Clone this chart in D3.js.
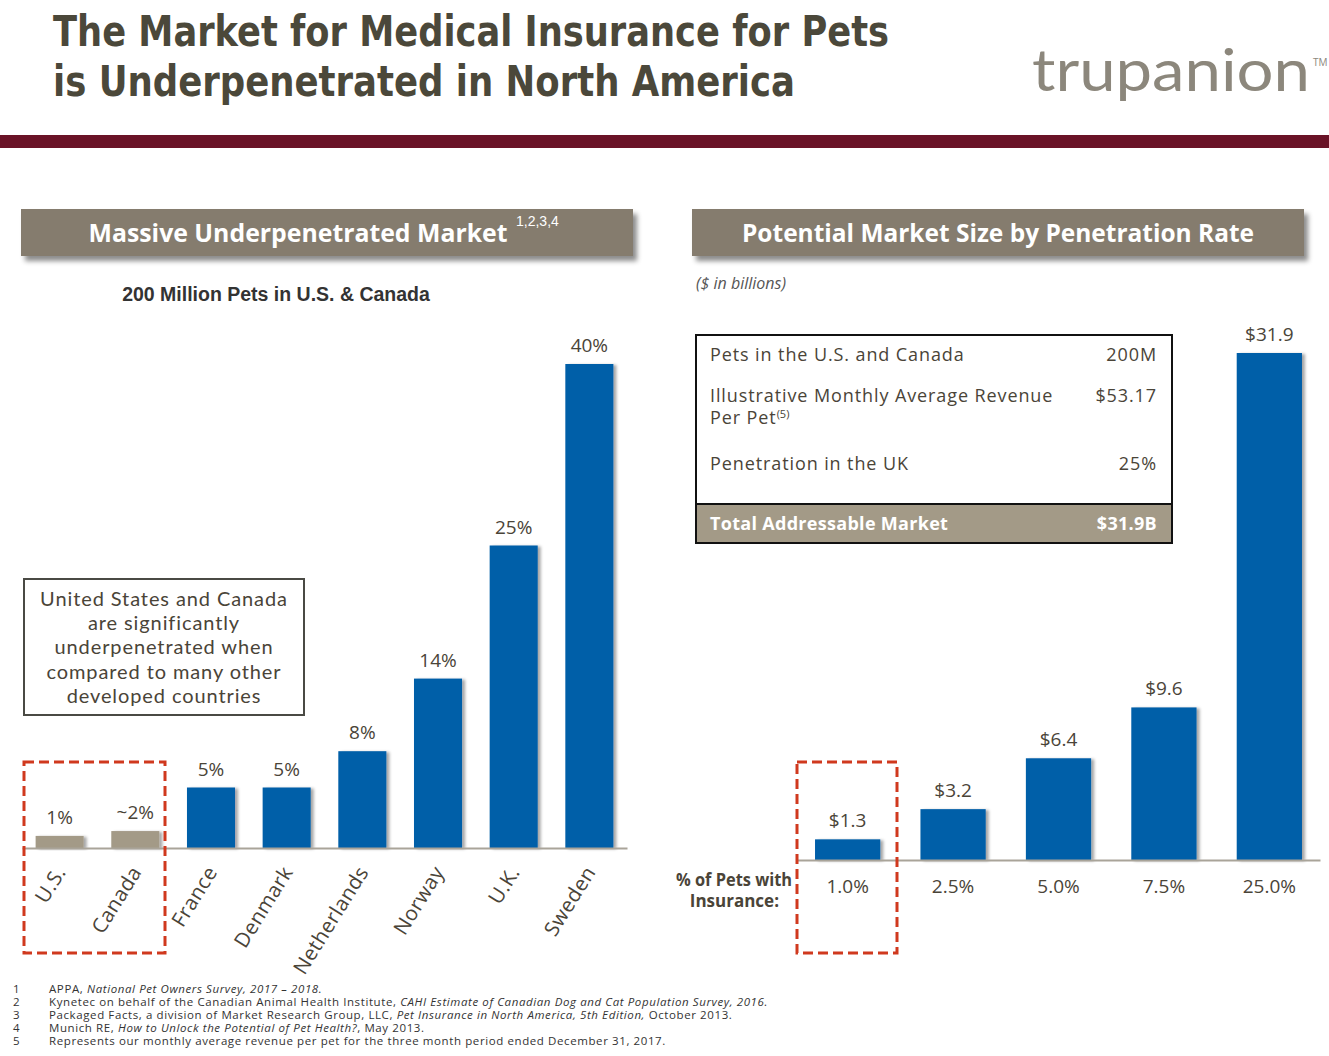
<!DOCTYPE html>
<html><head><meta charset="utf-8">
<script src="https://cdn.jsdelivr.net/npm/d3@7"></script>
<style>body{margin:0;background:#fff}svg{display:block}</style>
</head><body>
<script>
// ---- data ----
const countries = ["U.S.", "Canada", "France", "Denmark", "Netherlands", "Norway", "U.K.", "Sweden"];
const penetration = [1, 1.4, 5, 5, 8, 14, 25, 40];
const penetrationLabels = ["1%", "~2%", "5%", "5%", "8%", "14%", "25%", "40%"];
const highlighted = ["U.S.", "Canada"];
const rates = ["1.0%", "2.5%", "5.0%", "7.5%", "25.0%"];
const marketSize = [1.3, 3.2, 6.4, 9.6, 31.9];
const marketLabels = ["$1.3", "$3.2", "$6.4", "$9.6", "$31.9"];
const tableRows = [["Pets in the U.S. and Canada", "200M"], ["Illustrative Monthly Average Revenue", "$53.17"], ["Penetration in the UK", "25%"]];
const tableTotal = ["Total Addressable Market", "$31.9B"];
const annotation = ["United States and Canada", "are significantly", "underpenetrated when", "compared to many other", "developed countries"];
const footnotes = [
  ["1", [["APPA, ", false], ["National Pet Owners Survey, 2017 –  2018.", true]]],
  ["2", [["Kynetec on behalf of the Canadian Animal Health Institute, ", false], ["CAHI Estimate of Canadian Dog and Cat Population Survey, 2016.", true]]],
  ["3", [["Packaged Facts, a division of Market Research Group, LLC, ", false], ["Pet Insurance in North America, 5th Edition,", true], [" October 2013.", false]]],
  ["4", [["Munich RE, ", false], ["How to Unlock the Potential of Pet Health?", true], [", May 2013.", false]]],
  ["5", [["Represents our monthly average revenue per pet for the three month period ended December 31, 2017.", false]]]
];

const W = 1329, H = 1056;
const FONT = "'Century Gothic','Open Sans','DejaVu Sans',sans-serif";
const TXT = "#4a4438", BLUE = "#005ea8", TAUPE = "#a39a87", HEAD = "#857c6e", RED = "#d0391e";

const svg = d3.select("body").append("svg").attr("width", W).attr("height", H)
  .style("font-family", FONT);
const defs = svg.append("defs");
const fs = defs.append("filter").attr("id", "barShadow").attr("x", "-20%").attr("y", "-20%").attr("width", "140%").attr("height", "140%");
fs.append("feDropShadow").attr("dx", 3).attr("dy", 1).attr("stdDeviation", 1.5).attr("flood-color", "#000").attr("flood-opacity", 0.35);
const fh = defs.append("filter").attr("id", "headShadow").attr("x", "-5%").attr("y", "-30%").attr("width", "110%").attr("height", "170%");
fh.append("feDropShadow").attr("dx", 4).attr("dy", 5).attr("stdDeviation", 2.5).attr("flood-color", "#000").attr("flood-opacity", 0.45);

// ---- title ----
const title = svg.append("g").attr("fill", "#4b483a").attr("font-weight", "bold")
  .attr("font-family", "'DejaVu Sans Condensed','DejaVu Sans',sans-serif").attr("font-size", 42);
title.append("text").attr("x", 53).attr("y", 46).attr("textLength", 836).attr("lengthAdjust", "spacingAndGlyphs")
  .text("The Market for Medical Insurance for Pets");
title.append("text").attr("x", 53).attr("y", 96).attr("textLength", 742).attr("lengthAdjust", "spacingAndGlyphs")
  .text("is Underpenetrated in North America");

// logo
svg.append("text").attr("x", 1032).attr("y", 91).attr("font-size", 58).attr("fill", "#8c877c")
  .attr("font-family", "'Century Gothic','Lato','Open Sans',sans-serif")
  .attr("textLength", 278).attr("lengthAdjust", "spacingAndGlyphs").text("trupanion");
svg.append("text").attr("x", 1313).attr("y", 66).attr("font-size", 10).attr("fill", "#8c877c").text("TM");

// maroon band
svg.append("rect").attr("x", 0).attr("y", 135).attr("width", W).attr("height", 13).attr("fill", "#6a1327");

// ---- section headers ----
function header(x) {
  svg.append("rect").attr("x", x).attr("y", 209).attr("width", 612).attr("height", 47)
    .attr("fill", HEAD).attr("filter", "url(#headShadow)");
  return svg.append("text").attr("y", 242).attr("fill", "#fff").attr("font-weight", "bold")
    .attr("font-size", 25).attr("text-anchor", "middle");
}
header(21).attr("x", 298).attr("textLength", 419).attr("lengthAdjust", "spacingAndGlyphs").text("Massive Underpenetrated Market");
svg.append("text").attr("x", 516).attr("y", 226).attr("fill", "#fff").attr("font-size", 14)
  .attr("font-family", "'Liberation Sans Narrow','Liberation Sans',sans-serif").text("1,2,3,4");
header(692).attr("x", 998).attr("textLength", 512).attr("lengthAdjust", "spacingAndGlyphs").text("Potential Market Size by Penetration Rate");

svg.append("text").attr("x", 276).attr("y", 301).attr("text-anchor", "middle").attr("font-weight", "bold")
  .attr("font-family", "'Liberation Sans',Arial,sans-serif").attr("font-size", 19.5).attr("fill", "#333")
  .text("200 Million Pets in U.S. & Canada");
svg.append("text").attr("x", 696).attr("y", 289).attr("font-style", "italic").attr("font-size", 16)
  .attr("fill", "#555").text("($ in billions)");

// ---- left chart ----
const xL = d3.scaleBand().domain(countries).range([22, 627]).paddingInner(0.365).paddingOuter(0.18);
const yL = d3.scaleLinear().domain([0, 40]).range([848, 364]);
const left = svg.append("g");
left.selectAll("rect.bar").data(countries).join("rect").attr("class", "bar")
  .attr("x", d => xL(d)).attr("width", xL.bandwidth())
  .attr("y", (d, i) => yL(penetration[i])).attr("height", (d, i) => yL(0) - yL(penetration[i]))
  .attr("fill", d => highlighted.includes(d) ? TAUPE : BLUE).attr("filter", "url(#barShadow)");
left.selectAll("text.val").data(countries).join("text").attr("class", "val")
  .attr("x", d => xL(d) + xL.bandwidth() / 2).attr("y", (d, i) => yL(penetration[i]) - 12)
  .attr("text-anchor", "middle").attr("font-size", 19).attr("fill", TXT).text((d, i) => penetrationLabels[i]);
const axL = left.append("g").attr("transform", `translate(0,${yL(0)})`)
  .call(d3.axisBottom(xL).tickSize(0).tickPadding(0));
axL.select(".domain").attr("stroke", "#a9a499").attr("stroke-width", 2);
axL.selectAll(".tick text").attr("font-family", FONT).attr("font-size", 20.5).attr("fill", TXT)
  .attr("text-anchor", "end").attr("dy", 0).attr("letter-spacing", 0.4)
  .attr("transform", "translate(7,24) rotate(-58)");

// annotation box
svg.append("rect").attr("x", 24).attr("y", 579).attr("width", 280).attr("height", 136)
  .attr("fill", "#fff").attr("stroke", "#4a4a44").attr("stroke-width", 2);
svg.append("g").selectAll("text").data(annotation).join("text")
  .attr("x", 164).attr("y", (d, i) => 606 + i * 24.2).attr("text-anchor", "middle")
  .attr("font-family", "'Lato','Open Sans',sans-serif").attr("letter-spacing", 0.9)
  .attr("font-size", 20).attr("fill", TXT).text(d => d);

// red dashed highlight boxes
function dashBox(x, y, w, h) {
  svg.append("rect").attr("x", x).attr("y", y).attr("width", w).attr("height", h)
    .attr("fill", "none").attr("stroke", RED).attr("stroke-width", 3).attr("stroke-dasharray", "10,5");
}
dashBox(24, 762, 141, 191);

// ---- right chart ----
const xR = d3.scaleBand().domain(rates).range([797, 1320]).paddingInner(0.381).paddingOuter(0.171);
const yR = d3.scaleLinear().domain([0, 31.9]).range([860, 353]);
const right = svg.append("g");
right.selectAll("rect.bar").data(rates).join("rect").attr("class", "bar")
  .attr("x", d => xR(d)).attr("width", xR.bandwidth())
  .attr("y", (d, i) => yR(marketSize[i])).attr("height", (d, i) => yR(0) - yR(marketSize[i]))
  .attr("fill", BLUE).attr("filter", "url(#barShadow)");
right.selectAll("text.val").data(rates).join("text").attr("class", "val")
  .attr("x", d => xR(d) + xR.bandwidth() / 2).attr("y", (d, i) => yR(marketSize[i]) - 12)
  .attr("text-anchor", "middle").attr("font-size", 19).attr("fill", TXT).text((d, i) => marketLabels[i]);
const axR = right.append("g").attr("transform", `translate(0,${yR(0)})`)
  .call(d3.axisBottom(xR).tickSize(0).tickPadding(0));
axR.select(".domain").attr("stroke", "#a9a499").attr("stroke-width", 2);
axR.selectAll(".tick text").attr("font-family", FONT).attr("font-size", 19).attr("fill", TXT)
  .attr("dy", 0).attr("y", 33);
const pl = svg.append("g").attr("font-weight", "bold").attr("font-size", 17).attr("fill", TXT).attr("text-anchor", "end");
pl.append("text").attr("x", 792).attr("y", 886).attr("textLength", 116).attr("lengthAdjust", "spacingAndGlyphs").text("% of Pets with");
pl.append("text").attr("x", 779).attr("y", 907).text("Insurance:");
dashBox(797, 762, 100, 191);

// table
const tb = svg.append("g").attr("letter-spacing", 0.9);
tb.append("rect").attr("x", 696).attr("y", 504).attr("width", 476).attr("height", 39).attr("fill", TAUPE);
tb.append("rect").attr("x", 696).attr("y", 335).attr("width", 476).attr("height", 208)
  .attr("fill", "none").attr("stroke", "#111").attr("stroke-width", 2);
tb.append("line").attr("x1", 696).attr("x2", 1172).attr("y1", 504).attr("y2", 504).attr("stroke", "#111").attr("stroke-width", 2);
const rowY = [361, 402, 470];
tb.selectAll("text.lab").data(tableRows).join("text").attr("class", "lab")
  .attr("x", 710).attr("y", (d, i) => rowY[i]).attr("font-size", 18).attr("fill", TXT).text(d => d[0]);
tb.selectAll("text.num").data(tableRows).join("text").attr("class", "num")
  .attr("x", 1157).attr("y", (d, i) => rowY[i]).attr("text-anchor", "end").attr("font-size", 18).attr("fill", TXT).text(d => d[1]);
const pp = tb.append("text").attr("x", 710).attr("y", 424).attr("font-size", 18).attr("fill", TXT);
pp.append("tspan").text("Per Pet");
pp.append("tspan").attr("font-size", 11).attr("dy", -6).attr("letter-spacing", 0).text("(5)");
tb.append("text").attr("x", 710).attr("y", 530).attr("font-size", 18).attr("font-weight", "bold").attr("letter-spacing", 0.3).attr("fill", "#fff").text(tableTotal[0]);
tb.append("text").attr("x", 1157).attr("y", 530).attr("text-anchor", "end").attr("font-size", 18).attr("font-weight", "bold").attr("letter-spacing", 0.3).attr("fill", "#fff").text(tableTotal[1]);

// footnotes
const fn = svg.append("g").attr("font-size", 11.5).attr("fill", "#333");
footnotes.forEach((f, i) => {
  const y = 993 + i * 13;
  fn.append("text").attr("x", 13).attr("y", y).text(f[0]);
  const t = fn.append("text").attr("x", 49).attr("y", y).attr("letter-spacing", 0.6);
  f[1].forEach(p => t.append("tspan").attr("font-style", p[1] ? "italic" : "normal").text(p[0]));
});
</script>
</body></html>
